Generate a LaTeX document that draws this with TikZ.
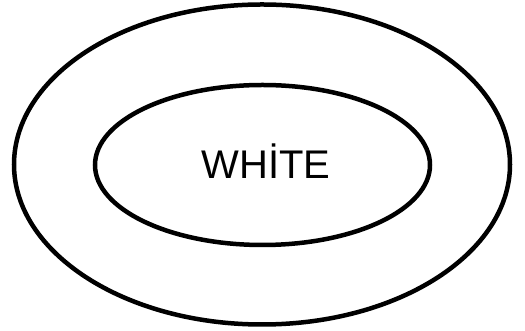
\documentclass[tikz,border=0pt]{standalone}
\usepackage{fontspec}
\setmainfont{Liberation Sans}
\usetikzlibrary{shapes.geometric}

\begin{document}
\begin{tikzpicture}[x=1pt,y=1pt]
\tikzset{ring/.style={draw,ellipse,line width=4.5pt,inner sep=0pt}}
\useasboundingbox (0,0) rectangle (525,331);
\node[ring,minimum width=496pt,minimum height=320pt] (outer) at (262,166.5){};
\node[ring,minimum width=335pt,minimum height=160pt] (inner) at (262.5,166){};
\node[font=\fontsize{40}{42}\selectfont] (name) at (266,170){WHİTE};
\end{tikzpicture}
\end{document}
